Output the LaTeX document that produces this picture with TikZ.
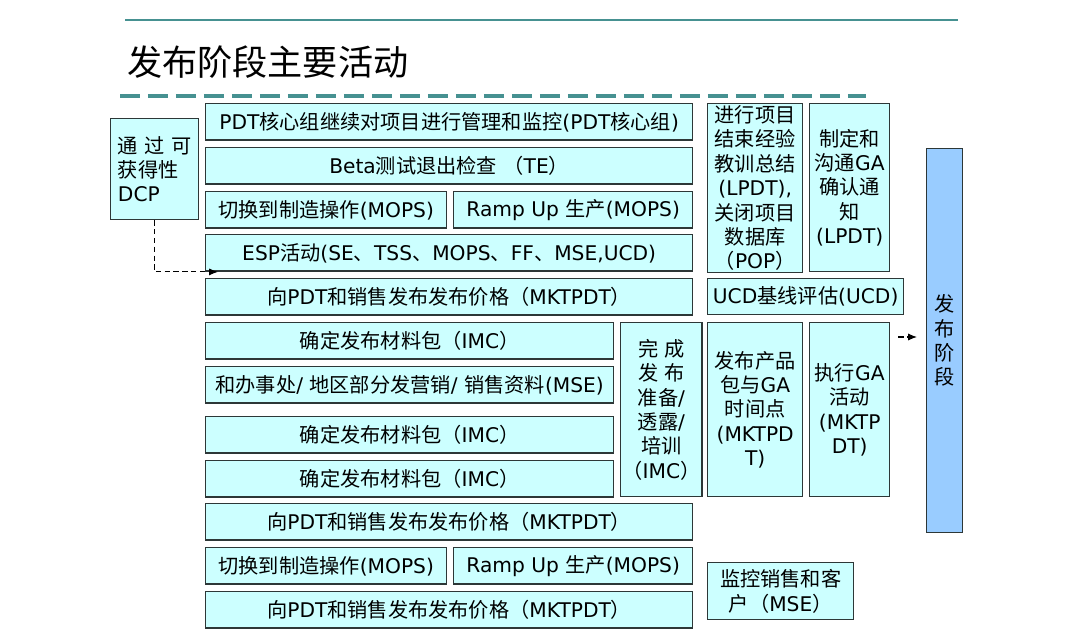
\documentclass[tikz,border=0pt]{standalone}
\usepackage{fontspec}
\usepackage{tikz}
\usetikzlibrary{arrows.meta}
\setmainfont{DejaVu Sans}
\newfontfamily\cjk{Noto Sans CJK SC}
% switch to the CJK font for Chinese characters and fullwidth punctuation
\XeTeXinterchartokenstate=1
\newXeTeXintercharclass\cjkclass
\count255="4E00
\loop\XeTeXcharclass\count255=\cjkclass \ifnum\count255<"9FFF \advance\count255 by 1 \repeat
\count255="3000
\loop\XeTeXcharclass\count255=\cjkclass \ifnum\count255<"303F \advance\count255 by 1 \repeat
\count255="FF00
\loop\XeTeXcharclass\count255=\cjkclass \ifnum\count255<"FFEF \advance\count255 by 1 \repeat
\XeTeXinterchartoks 0 \cjkclass = {\begingroup\cjk}
\XeTeXinterchartoks 4095 \cjkclass = {\begingroup\cjk}
\XeTeXinterchartoks \cjkclass 0 = {\endgroup}
\XeTeXinterchartoks \cjkclass 4095 = {\endgroup}
\definecolor{boxfill}{RGB}{204, 255, 255}
\definecolor{boxline}{RGB}{45, 55, 55}
\definecolor{phase}{RGB}{153, 204, 255}
\definecolor{teal}{RGB}{70, 145, 145}

\begin{document}
\begin{tikzpicture}[x=0.02cm, y=-0.02cm,
        act/.style={draw=boxline, fill=boxfill, line width=0.8pt, anchor=north west,
            inner sep=1pt, align=center, font=\fontsize{11.5}{13.9}\selectfont},
        flow/.style={densely dashed, line width=0.6pt, -{Latex[length=5pt, width=4pt]}}]
        \useasboundingbox (0,0) rectangle (1080,639);

        % Header lines and title
        \draw[line width=1pt, teal] (125,20) -- (958,20);
        \node[anchor=west, font=\fontsize{20}{24}\selectfont] (title) at (121,62) {发布阶段主要活动};
        \draw[line width=2.2pt, teal, dash pattern=on 0.4cm off 0.16cm] (120,96) -- (866,96);

        % Entry gate
        \node[act, minimum width=1.76cm, minimum height=2.02cm, align=left] (dcp) at (110,118)
            {通 过 可\\获得性\\DCP};

        % Main column
        \node[act, minimum width=9.74cm, minimum height=0.73cm] (mgmt) at (205,103)
            {PDT核心组继续对项目进行管理和监控(PDT核心组)};
        \node[act, minimum width=9.74cm, minimum height=0.73cm] (beta) at (205,147)
            {Beta测试退出检查 （TE）};
        \node[act, minimum width=4.82cm, minimum height=0.73cm] (switchA) at (205,191)
            {切换到制造操作(MOPS)};
        \node[act, minimum width=4.78cm, minimum height=0.73cm] (rampA) at (453,191)
            {Ramp Up 生产(MOPS)};
        \node[act, minimum width=9.74cm, minimum height=0.73cm] (esp) at (205,234)
            {ESP活动(SE、TSS、MOPS、FF、MSE,UCD)};
        \node[act, minimum width=9.74cm, minimum height=0.73cm] (priceA) at (205,278)
            {向PDT和销售发布发布价格（MKTPDT）};

        % Materials rows and readiness box
        \node[act, minimum width=8.16cm, minimum height=0.73cm] (packA) at (205,322)
            {确定发布材料包（IMC）};
        \node[act, minimum width=8.16cm, minimum height=0.73cm] (sales) at (205,366)
            {和办事处/ 地区部分发营销/ 销售资料(MSE)};
        \node[act, minimum width=8.16cm, minimum height=0.73cm] (packB) at (205,416)
            {确定发布材料包（IMC）};
        \node[act, minimum width=8.16cm, minimum height=0.73cm] (packC) at (205,460)
            {确定发布材料包（IMC）};
        \node[act, minimum width=1.44cm, minimum height=3.48cm] (prep) at (620,322)
            {完 成\\发 布\\准备/\\透露/\\培训\\（IMC）};

        % Lower rows
        \node[act, minimum width=9.74cm, minimum height=0.73cm] (priceB) at (205,503)
            {向PDT和销售发布发布价格（MKTPDT）};
        \node[act, minimum width=4.82cm, minimum height=0.73cm] (switchB) at (205,547)
            {切换到制造操作(MOPS)};
        \node[act, minimum width=4.78cm, minimum height=0.73cm] (rampB) at (453,547)
            {Ramp Up 生产(MOPS)};
        \node[act, minimum width=9.74cm, minimum height=0.73cm] (priceC) at (205,591)
            {向PDT和销售发布发布价格（MKTPDT）};

        % Right column
        \node[act, minimum width=1.90cm, minimum height=3.36cm] (lessons) at (707,103)
            {进行项目\\结束经验\\教训总结\\(LPDT),\\关闭项目\\数据库\\（POP）};
        \node[act, minimum width=1.60cm, minimum height=3.36cm] (gacomm) at (809,103)
            {制定和\\沟通GA\\确认通\\知\\(LPDT)};
        \node[act, minimum width=3.92cm, minimum height=0.72cm] (ucd) at (707,278)
            {UCD基线评估(UCD)};
        \node[act, minimum width=1.90cm, minimum height=3.48cm] (gapack) at (707,322)
            {发布产品\\包与GA\\时间点\\(MKTPD\\T)};
        \node[act, minimum width=1.60cm, minimum height=3.48cm] (gaexec) at (809,322)
            {执行GA\\活动\\(MKTP\\DT)};
        \node[act, minimum width=2.92cm, minimum height=1.14cm] (monitor) at (707,562)
            {监控销售和客\\户（MSE）};

        % Launch phase bar
        \node[act, fill=phase, minimum width=0.72cm, minimum height=7.68cm] (launch) at (926,148)
            {发\\布\\阶\\段};

        % Dashed connectors
        \draw[flow] (dcp.south) |- ([xshift=0.26cm]esp.south west);
        \coordinate (gofrom) at ([xshift=0.16cm, yshift=-0.3cm]gaexec.north east);
        \draw[flow, shorten >=0.18cm] (gofrom) -- (gofrom -| launch.west);
    \end{tikzpicture}
\end{document}
